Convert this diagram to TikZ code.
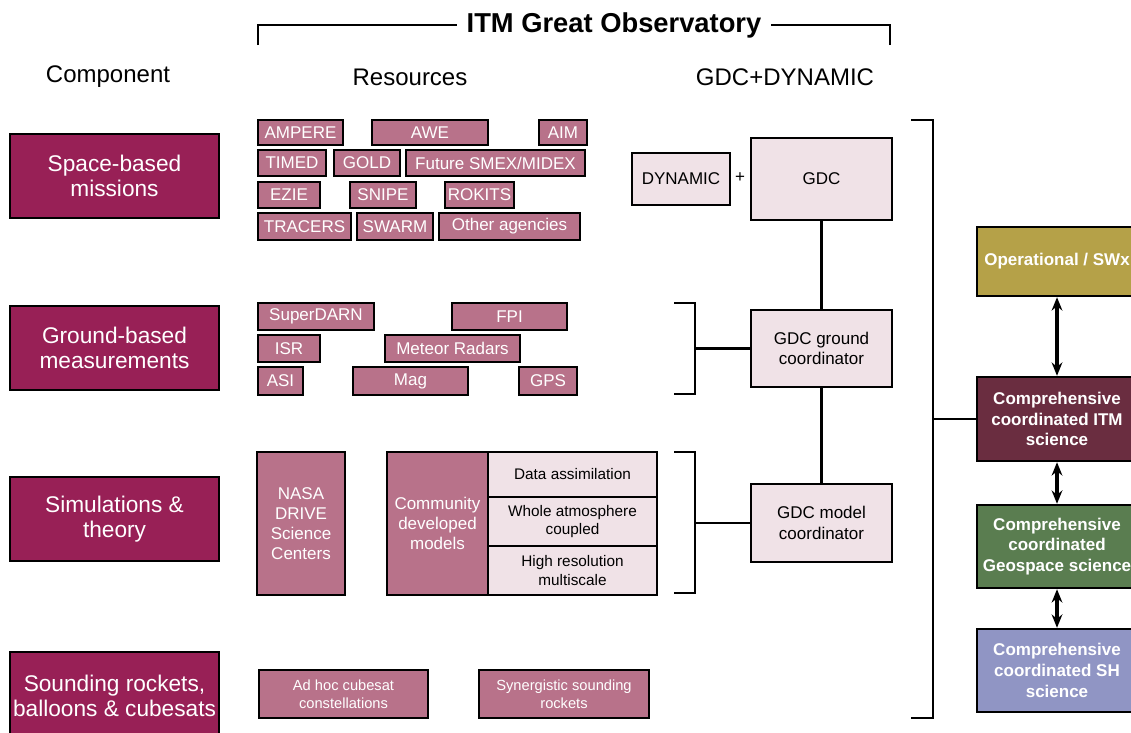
\documentclass[tikz,border=0pt]{standalone}
\usepackage{fontspec}
\setmainfont{Liberation Sans}
\usetikzlibrary{arrows.meta}

\definecolor{compfill}{RGB}{152,32,86}
\definecolor{resfill}{RGB}{184,114,138}
\definecolor{gdcfill}{RGB}{240,226,231}
\definecolor{opsfill}{RGB}{181,161,72}
\definecolor{itmfill}{RGB}{106,45,64}
\definecolor{geofill}{RGB}{90,125,80}
\definecolor{shfill}{RGB}{144,149,196}

\tikzset{every picture/.style={line width=0.75pt}}
\tikzset{
  px/.style 2 args={minimum width={(#1)*0.75pt}, minimum height={(#2)*0.75pt}},
  comp/.style={draw=black, fill=compfill, line width=1.5pt, inner sep=0pt, text=white, align=center,
    font=\fontsize{17}{19}\selectfont},
  res/.style={draw=black, fill=resfill, line width=2pt, inner sep=0pt, text=white, align=center,
    font=\fontsize{12.75}{14}\selectfont},
  gdcbox/.style={draw=black, fill=gdcfill, line width=1.8pt, inner sep=0pt, text=black, align=center,
    font=\fontsize{12.75}{15.5}\selectfont},
  modbox/.style={gdcbox, line width=2pt, font=\fontsize{11.5}{14}\selectfont},
  outbox/.style={draw=black, line width=1.8pt, inner sep=0pt, text=white, align=center,
    font=\fontsize{12.75}{15.5}\selectfont\bfseries},
  header/.style={font=\fontsize{18}{20}\selectfont},
  link/.style={line width=1.6pt},
  twoway/.style={line width=2.4pt, arrows={Stealth[length=10pt,width=8pt]-Stealth[length=10pt,width=8pt]}}
}

\begin{document}
\begin{tikzpicture}[x=0.75pt,y=0.75pt,yscale=-1,xscale=1]
\useasboundingbox (0,0) rectangle (1131,732);

% Title and headers
\node[font=\fontsize{20.5}{22}\selectfont\bfseries, inner sep=7pt] (title) at (614,25) {ITM Great Observatory};
\coordinate (tl) at (258,45);
\coordinate (tr) at (890,45);
\draw[link] (tl) |- (title.west);
\draw[link] (tr) |- (title.east);
\node[header] (hcomp) at (108,77) {Component};
\node[header] (hres) at (410,77) {Resources};
\node[header] (hgdc) at (785,77) {GDC+DYNAMIC};

% Components
\node[comp, px={209}{84}] (space) at (114.5,176) {Space-based\\missions};
\node[comp, px={209}{84}] (ground) at (114.5,348) {Ground-based\\measurements};
\node[comp, px={209}{84}] (simul) at (114.5,519) {Simulations \&\\theory};
\node[comp, px={209}{88}] (sound) at (114.5,696) {Sounding rockets,\\balloons \& cubesats};

% Space-based resources
\node[res, px={85}{25}] (ampere) at (300.5,132.5) {AMPERE};
\node[res, px={116}{25}] (awe) at (430,132.5) {AWE};
\node[res, px={48}{25}] (aim) at (563,132.5) {AIM};
\node[res, px={68}{26}] (timed) at (292,163) {TIMED};
\node[res, px={66}{26}] (gold) at (367,163) {GOLD};
\node[res, px={179}{26}] (smex) at (495.5,163) {Future SMEX/MIDEX};
\node[res, px={62}{26}] (ezie) at (289,195) {EZIE};
\node[res, px={66}{26}] (snipe) at (383,195) {SNIPE};
\node[res, px={69}{26}] (rokits) at (479.5,195) {ROKITS};
\node[res, px={93}{27}] (tracers) at (304.5,226.5) {TRACERS};
\node[res, px={76}{27}] (swarm) at (395,226.5) {SWARM};
\node[res, px={141}{27}] (other) at (509.5,226.5) {Other agencies};

% Ground-based resources
\node[res, px={116}{27}] (sdarn) at (316,316.5) {SuperDARN};
\node[res, px={115}{27}] (fpi) at (509.5,316.5) {FPI};
\node[res, px={62}{27}] (isr) at (289,348.5) {ISR};
\node[res, px={135}{27}] (meteor) at (452.5,348.5) {Meteor Radars};
\node[res, px={45}{28}] (asi) at (280.5,381) {ASI};
\node[res, px={115}{28}] (mag) at (410.5,381) {Mag};
\node[res, px={58}{28}] (gps) at (548,381) {GPS};

% Simulation resources
\node[res, font=\fontsize{12.75}{15}\selectfont, px={88}{143}] (drive) at (301,523.5) {NASA\\DRIVE\\Science\\Centers};
\node[res, font=\fontsize{12.75}{15}\selectfont, px={101}{143}] (cmodels) at (437.5,523.5) {Community\\developed\\models};
\node[modbox, px={169}{45}] (assim) at (572.5,474.5) {Data assimilation};
\node[modbox, px={169}{49}] (whole) at (572.5,521.5) {Whole atmosphere\\coupled};
\node[modbox, px={169}{49}] (hires) at (572.5,570.5) {High resolution\\multiscale};

% Sounding resources
\node[res, font=\fontsize{11}{13.5}\selectfont, px={169}{48}] (adhoc) at (343.5,694) {Ad hoc cubesat\\constellations};
\node[res, font=\fontsize{11}{13.5}\selectfont, px={170}{48}] (synerg) at (564,694) {Synergistic sounding\\rockets};

% GDC + DYNAMIC
\node[gdcbox, px={98}{52}] (dynamic) at (681,179) {DYNAMIC};
\node[font=\fontsize{12.75}{14}\selectfont] (plus) at (740,178) {+};
\node[gdcbox, px={141}{82}] (gdc) at (821.5,179) {GDC};
\node[gdcbox, px={141}{77}] (gground) at (821.5,348.5) {GDC ground\\coordinator};
\node[gdcbox, px={141}{78}] (gmodel) at (821.5,523) {GDC model\\coordinator};
\draw[link] (gdc) -- (gground);
\draw[link] (gground) -- (gmodel);

% Brackets
\draw[link] (674,303) -- (695,303) -- (695,394) -- (674,394);
\coordinate (gbr) at (695,348.5);
\draw[link] (gbr) -- (gground.west);
\draw[link] (674,452) -- (695,452) -- (695,593) -- (674,593);
\coordinate (mbr) at (695,523);
\draw[link] (mbr) -- (gmodel.west);
\draw[link] (911,120) -- (933,120) -- (933,718) -- (911,718);
\coordinate (obr) at (933,419);

% Outcomes
\node[outbox, fill=opsfill, px={160}{69}] (ops) at (1057,261.5) {Operational / SWx};
\node[outbox, fill=itmfill, px={160}{84}] (itm) at (1057,419) {Comprehensive\\coordinated ITM\\science};
\node[outbox, fill=geofill, px={160}{83}] (geo) at (1057,546.5) {Comprehensive\\coordinated\\Geospace science};
\node[outbox, fill=shfill, px={160}{83}] (sh) at (1057,670.5) {Comprehensive\\coordinated SH\\science};
\draw[link] (obr) -- (itm.west);
\draw[twoway] (ops.south) -- (itm.north);
\draw[twoway] (itm.south) -- (geo.north);
\draw[twoway] (geo.south) -- (sh.north);

\end{tikzpicture}
\end{document}
